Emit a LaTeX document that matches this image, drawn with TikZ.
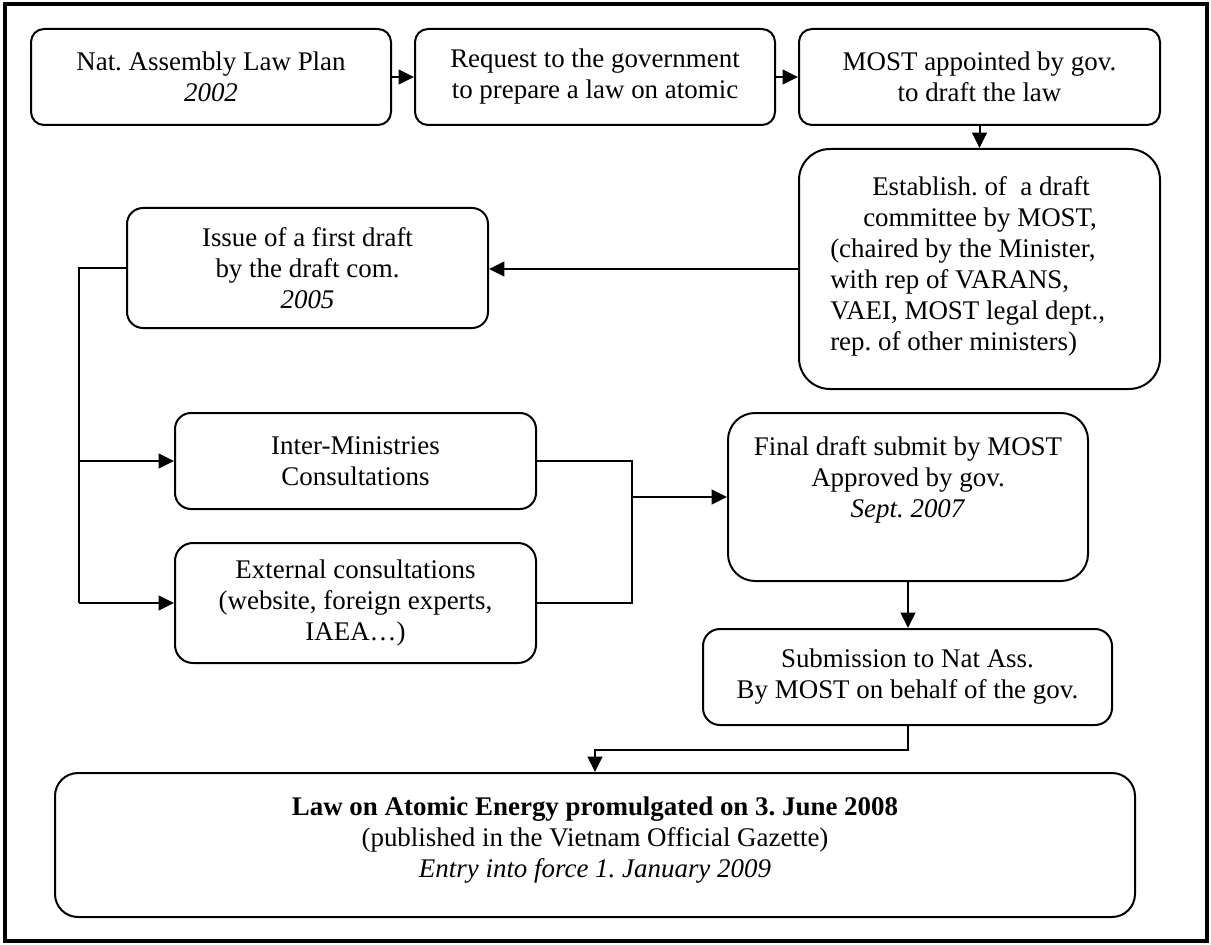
\documentclass[tikz,border=0pt]{standalone}
\usepackage{fontspec}
\setmainfont{Liberation Serif}
\usetikzlibrary{arrows.meta}
\frenchspacing
\begin{document}
\begin{tikzpicture}[x=0.75pt,y=-0.75pt,
  every node/.style={font=\fontsize{20.2}{23.25}\selectfont\frenchspacing},
  box/.style={draw,line width=1.5pt,align=center,inner sep=0pt},
  sz/.style 2 args={minimum width=#1*0.75pt,minimum height=#2*0.75pt},
  rc/.style={rounded corners=#1*0.75pt},
  txt/.style={inner sep=0pt},
  arr/.style={line width=1.5pt,-{Triangle[length=11.5pt,width=11pt]}},
  conn/.style={line width=1.5pt}]
\useasboundingbox (0,0) rectangle (1211,945);
\draw[line width=3pt] (5,4) rectangle (1207,941);

\node[box,sz={360}{96},rc=13] (b1) at (211,77) {Nat. Assembly Law Plan\\\textit{2002}};
\node[box,sz={360}{96},rc=13] (b2) at (595,77) {Request to the government\\to prepare a law on atomic};
\node[box,sz={361}{96},rc=13] (b3) at (979.5,77) {MOST appointed by gov.\\to draft the law};
\node[box,sz={361}{240},rc=31] (est) at (979.5,269) {};
\node[txt,anchor=north west,align=left] (estt) at (830,176.5) {\hspace*{31.5pt}Establish. of\ \ a draft\\\hspace*{24.75pt}committee by MOST,\\(chaired by the Minister,\\with rep of VARANS,\\VAEI, MOST legal dept.,\\rep. of other ministers)};
\node[box,sz={361}{120},rc=16] (iss) at (307.5,268) {Issue of a first draft\\by the draft com.\\\textit{2005}};
\node[box,sz={361}{96},rc=16] (inter) at (355.5,461) {Inter-Ministries\\Consultations};
\node[box,sz={361}{120},rc=18] (ext) at (355.5,603) {External consultations\\(website, foreign experts,\\IAEA…)};
\node[box,sz={360}{168},rc=27] (fin) at (908,497) {};
\node[txt,anchor=north,align=center] (fint) at (908,436.5) {Final draft submit by MOST\\Approved by gov.\\\textit{Sept. 2007}};
\node[box,sz={409}{96},rc=17] (sub) at (907.5,677) {Submission to Nat Ass.\\By MOST on behalf of the gov.};
\node[box,sz={1080}{144},rc=23] (law) at (595,845) {};
\node[txt,anchor=north,align=center] (lawt) at (595,797) {\textbf{Law on Atomic Energy promulgated on 3. June 2008}\\(published in the Vietnam Official Gazette)\\\textit{Entry into force 1. January 2009}};

\draw[arr] (b1) -- (b2);
\draw[arr] (b2) -- (b3);
\draw[arr] (b3) -- (est);
\draw[arr] (est.west) -- (est.west -| iss.east);
\coordinate (bus) at (79,268);
\draw[conn] (iss.west) -- (bus) -- (bus |- ext.west);
\draw[arr] (bus |- inter.west) -- (inter.west);
\draw[arr] (bus |- ext.west) -- (ext.west);
\coordinate (mx) at (632,497);
\draw[conn] (inter.east) -- (inter.east -| mx) -- (ext.east -| mx) -- (ext.east);
\draw[arr] (mx |- fin.west) -- (fin.west);
\draw[arr] (fin.south) -- (fin.south |- sub.north);
\draw[arr] (sub.south) -- ++(0,24) -| (law.north);
\end{tikzpicture}
\end{document}
